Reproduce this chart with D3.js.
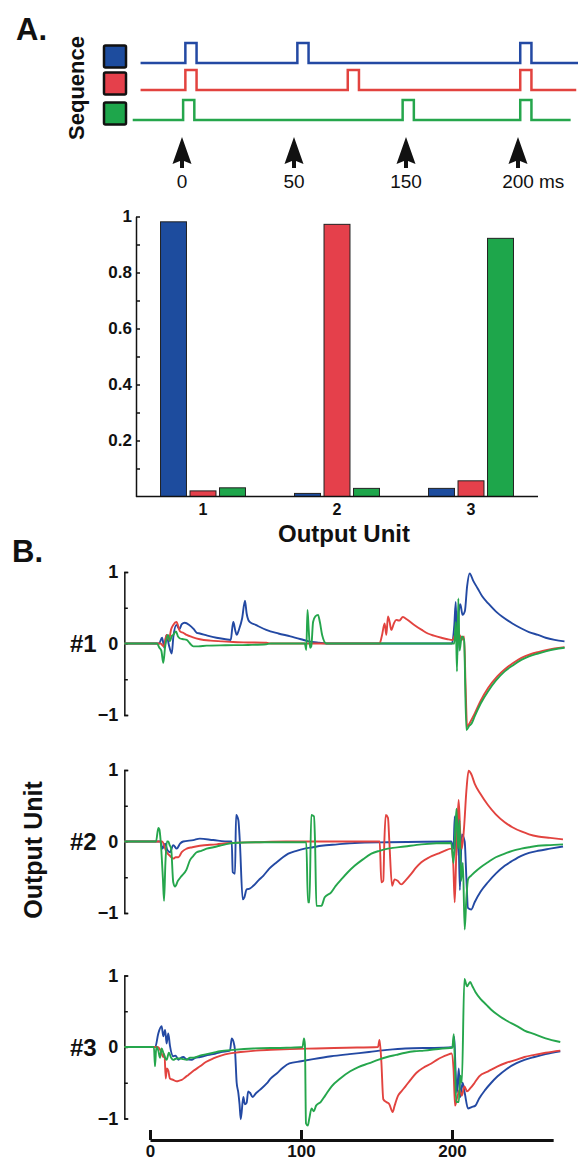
<!DOCTYPE html>
<html>
<head>
<meta charset="utf-8">
<script src="https://cdn.jsdelivr.net/npm/d3@7"></script>
<style>
body{margin:0;background:#fff;}
svg{display:block;font-family:"Liberation Sans",Arial,Helvetica,sans-serif;}
</style>
</head>
<body>
<svg id="fig" width="578" height="1163"></svg>
<script>
// ---- data ----
var seqNames = ["blue","red","green"];
var fillColors = {blue:"#1d4c9e", red:"#e5404b", green:"#1ea64b"};
var lineColors = {blue:"#2349a3", red:"#e2433f", green:"#25a64c"};

// panel A: pulse onsets in "arrow slot" units (arrows sit at slots 0..3)
var seqPulses = [[0.03,1.03,3.02],[0.03,1.48,3.02],[0.01,1.97,3.02]];
var seqStart = [-0.37,-0.37,-0.44];
var seqEnd = [3.54,3.52,3.47];
var pulseWidth = 0.1;
var arrowSlots = [0,1,2,3];
var arrowLabels = ["0","50","150","200"];

// bar chart
var units = ["1","2","3"];
var barBlue = [0.981,0.011,0.029];
var barRed = [0.020,0.972,0.056];
var barGreen = [0.031,0.029,0.922];
var barMajor = [0.2,0.4,0.6,0.8,1];
var barMinor = [0.1,0.3,0.5,0.7,0.9];

// panel B traces: [time ms, output]
var u1Blue = [[-17,0],[6,0],[8,0.08],[9.5,-0.06],[11,0.12],[12.5,-0.02],[14.4,-0.14],[15.5,0.1],[17.5,0.26],[19.5,0.2],[21,0.27],[23,0.29],[26,0.26],[29,0.2],[31,0.15],[33,0.14],[38,0.11],[44,0.08],[50,0.06],[53.5,0.05],[54.5,0.22],[55.2,0.3],[56.5,0.18],[57.4,0.12],[59,0.2],[61,0.35],[62.9,0.6],[64,0.42],[65.1,0.33],[66.2,0.3],[70,0.26],[77,0.19],[85,0.14],[93,0.1],[100,0.06],[105,0.03],[112,0.01],[117,0],[200,0],[201.5,0.25],[202.5,0.58],[203.5,-0.16],[204.5,0.45],[205.5,0.55],[207,0.4],[208.5,0.45],[210,0.8],[211.7,0.98],[214,0.88],[217,0.77],[220,0.66],[224,0.56],[229,0.45],[235,0.35],[240,0.28],[246,0.21],[251,0.16],[257,0.12],[262,0.08],[268,0.05],[274.5,0.03]];
var u1Red = [[-17,0],[7,0],[9,-0.04],[11,0.12],[12.5,0.05],[14,0.2],[15.4,0.26],[17.5,0.3],[19.9,0.17],[22,0.15],[24.3,0.12],[28,0.09],[33,0.06],[40,0.04],[48,0.03],[55,0.02],[65,0.015],[77,0.01],[80,0],[152,0],[153.5,0.1],[155.4,0.28],[156.5,0.12],[157.6,0.38],[158.7,0.3],[159.8,0.19],[161.5,0.28],[163.1,0.33],[165,0.32],[167.5,0.37],[170,0.34],[175,0.26],[180,0.19],[184,0.14],[188,0.11],[193,0.08],[197,0.06],[200.5,0.05],[202,0.12],[203.5,0.02],[205,0.12],[206.5,0.05],[208,0.1],[209,-0.6],[210,-1.16],[212,-1.1],[215,-0.98],[219,-0.8],[224,-0.62],[230,-0.46],[235,-0.36],[240,-0.28],[246,-0.2],[252,-0.15],[257,-0.12],[263,-0.09],[268,-0.07],[274.5,-0.05]];
var u1Green = [[-17,0],[4.6,0],[6.2,-0.06],[7.5,-0.1],[8.8,-0.27],[10,-0.05],[10.6,0.03],[11.9,0.12],[13.2,0.03],[14.3,0.1],[15.4,0.12],[17.2,0.17],[18.5,0.1],[19.9,0.07],[22,0.06],[24.3,0.05],[26.5,0],[28.7,-0.04],[32,-0.04],[37.5,-0.03],[50,-0.025],[65,-0.02],[77,-0.01],[80,0],[102.5,0],[103.5,-0.09],[104.3,0.47],[105.1,0.2],[106,-0.06],[106.8,-0.04],[108,0.3],[109.5,0.38],[111.3,0.4],[112.5,0.3],[114,0.12],[116.8,0],[201.5,0],[202.5,0.3],[203.3,-0.39],[204.2,0.63],[205,-0.1],[206.5,0.1],[208,0.05],[209.5,-1.21],[211.5,-1.15],[213,-1.12],[215,-1.02],[219,-0.84],[223.8,-0.67],[229,-0.52],[234.9,-0.39],[240,-0.31],[245.9,-0.23],[251,-0.18],[257,-0.14],[262,-0.11],[268,-0.08],[274.6,-0.06]];

var u2Blue = [[-17,0],[7,0],[8.2,-0.1],[10,-0.03],[11.5,-0.12],[13.2,-0.15],[15.4,-0.05],[17.7,-0.1],[19.9,-0.03],[22,0],[28.7,0.02],[33,0.04],[41.9,0.02],[53,0],[54.1,0],[54.8,-0.43],[56.3,-0.45],[57,0.37],[58.5,0.3],[59.5,0],[61.4,-0.81],[62.5,-0.78],[64,-0.67],[66,-0.66],[68.4,-0.62],[72,-0.54],[75,-0.48],[79,-0.38],[83.9,-0.29],[88,-0.22],[91.6,-0.17],[97,-0.13],[102.4,-0.1],[108,-0.08],[113.5,-0.06],[124,-0.04],[135.5,-0.02],[157.6,-0.01],[199.5,0],[201,-0.1],[201.8,0.35],[203,-0.2],[204,0.4],[205.2,-0.68],[206.5,0.1],[208.4,0],[209.5,-0.5],[210.6,-0.93],[212.8,-0.95],[215,-0.85],[219,-0.7],[223.8,-0.57],[229,-0.45],[234.9,-0.34],[240,-0.27],[245.9,-0.2],[251,-0.16],[257,-0.13],[265,-0.1],[273.5,-0.07]];
var u2Red = [[-17,0],[8,0],[11,-0.15],[13.2,-0.2],[15.4,-0.24],[17,-0.22],[18.8,-0.22],[21,-0.15],[24.3,-0.1],[28,-0.08],[33,-0.06],[44,-0.04],[53,-0.02],[70,-0.01],[90,0],[152.1,0],[153.2,-0.57],[154.5,-0.55],[155.2,0],[156.1,0.37],[157.6,0.33],[158.5,0],[160.3,-0.62],[162,-0.53],[164,-0.55],[166.4,-0.6],[169,-0.55],[173.1,-0.45],[176,-0.37],[179.7,-0.29],[185,-0.22],[190.7,-0.17],[195,-0.13],[199.5,-0.1],[200.8,-0.3],[201.8,-0.85],[202.8,-0.2],[203.5,0.2],[204.4,0.58],[205.5,0.1],[206.5,-0.1],[208,0.2],[209.5,0.7],[211,0.99],[212.8,0.94],[215,0.81],[219,0.66],[223.8,0.51],[229,0.38],[234.9,0.27],[240,0.2],[245.9,0.14],[251,0.1],[257,0.07],[265,0.05],[273.5,0.03]];
var u2Green = [[-17,0],[4,0],[5.5,0.19],[6.2,0.17],[7.1,0],[8.5,-0.5],[9.3,-0.83],[10.2,-0.3],[11.2,0],[12.1,0],[13,-0.05],[14,-0.1],[15.4,-0.57],[16.6,-0.63],[18.5,-0.55],[21,-0.48],[24,-0.4],[26.5,-0.26],[28.7,-0.2],[30.9,-0.15],[34,-0.13],[37.5,-0.1],[42,-0.08],[46,-0.06],[55,-0.02],[70,-0.01],[103.5,-0.01],[104.6,-0.85],[105.6,-0.85],[106.8,0.37],[108.6,0.35],[109.3,0],[110.2,-0.9],[113.5,-0.9],[115.7,-0.78],[120,-0.71],[123,-0.62],[126.7,-0.53],[131,-0.43],[135.5,-0.34],[141,-0.25],[146.6,-0.17],[152,-0.13],[157.6,-0.1],[168.7,-0.07],[179.7,-0.04],[199.5,-0.02],[201,-0.3],[202,0.1],[203,0.46],[204,-0.1],[205,0.3],[206,-0.55],[207.2,-0.3],[208.4,-1.23],[209.5,-0.8],[210.6,-0.53],[212.5,-0.48],[215,-0.43],[219,-0.36],[223.8,-0.29],[229,-0.22],[234.9,-0.17],[240,-0.13],[245.9,-0.1],[251,-0.08],[257,-0.06],[265,-0.05],[273.5,-0.04]];

var u3Blue = [[-17,0],[3.5,0],[5.5,0.19],[7.7,0.29],[8.8,0.15],[10,0.24],[11,0.05],[12.1,0.19],[13.2,0.02],[15.4,-0.13],[17,-0.12],[18.8,-0.18],[20.5,-0.15],[22.1,-0.14],[24,-0.17],[27.6,-0.18],[30,-0.15],[33.1,-0.14],[37,-0.12],[41.9,-0.1],[47,-0.07],[53,-0.05],[54.1,0.12],[55.2,0.08],[56.3,-0.05],[57.4,-0.5],[58.5,-0.64],[59.3,-0.8],[60.1,-1.01],[61.8,-0.7],[62.8,-0.8],[64,-0.78],[65,-0.62],[66.2,-0.64],[68,-0.7],[70,-0.65],[72.8,-0.6],[77.3,-0.51],[80,-0.44],[83.9,-0.37],[88,-0.29],[92.3,-0.23],[100,-0.2],[108,-0.17],[120,-0.13],[132,-0.1],[145,-0.07],[157,-0.04],[169,-0.02],[193.6,-0.01],[200.5,0],[201.5,0.14],[202.3,-0.3],[203.3,-0.64],[204.5,-0.3],[205.5,-0.7],[207,-0.5],[208.5,-0.65],[210.6,-0.86],[213,-0.84],[215.5,-0.82],[218,-0.72],[222,-0.6],[226,-0.5],[230.2,-0.41],[236,-0.31],[242.4,-0.23],[248,-0.18],[254.6,-0.14],[262,-0.1],[271.7,-0.06]];
var u3Red = [[-17,0],[5,0],[7,-0.05],[8.8,-0.14],[9.6,-0.1],[10.4,-0.44],[11.2,-0.3],[12.1,-0.33],[13.2,-0.44],[15.4,-0.46],[17.7,-0.48],[19.5,-0.47],[21,-0.46],[23,-0.43],[25.4,-0.39],[29,-0.33],[33.1,-0.27],[37,-0.21],[41.9,-0.16],[47,-0.12],[53,-0.09],[60,-0.07],[70,-0.05],[80,-0.04],[92.7,-0.03],[110,-0.02],[130,-0.01],[151,0],[152,0.1],[153.2,-0.2],[154.5,-0.73],[156.5,-0.77],[158.5,-0.8],[160.7,-0.91],[162,-0.82],[164.3,-0.68],[166.5,-0.62],[169.2,-0.55],[172.5,-0.46],[176.5,-0.36],[181,-0.29],[186.3,-0.23],[190,-0.18],[193.6,-0.14],[197,-0.11],[199.7,-0.09],[201,-0.3],[202,-0.82],[203.5,-0.7],[205,-0.6],[206.5,-0.68],[208.2,-0.55],[210,-0.62],[212,-0.58],[215,-0.5],[218,-0.41],[224,-0.34],[230.2,-0.27],[236,-0.22],[242.4,-0.18],[248,-0.14],[254.6,-0.11],[262,-0.08],[271.7,-0.05]];
var u3Green = [[-17,0],[2.6,0],[3.3,-0.27],[4.2,0],[5.5,-0.05],[6.6,-0.15],[7.7,-0.02],[8.8,-0.08],[10,-0.15],[11,-0.18],[12.5,-0.08],[14,-0.15],[15.4,-0.18],[17.5,-0.16],[19.9,-0.16],[22,-0.17],[24.3,-0.18],[26.5,-0.15],[28.7,-0.15],[33,-0.12],[37.5,-0.1],[42,-0.08],[46.4,-0.06],[55.2,-0.04],[68.4,-0.02],[90.5,-0.01],[101,0],[102,0.12],[102.6,0.03],[103.3,-1.07],[104.5,-1.1],[105.5,-1],[107,-0.86],[108.5,-0.9],[110,-0.82],[113,-0.77],[116,-0.68],[120.3,-0.55],[126,-0.44],[132.6,-0.34],[138,-0.28],[144.8,-0.23],[151,-0.18],[157,-0.14],[163,-0.11],[169.2,-0.08],[175,-0.06],[181.4,-0.05],[193.6,-0.02],[200.2,-0.01],[201.2,0.18],[202,-0.3],[202.8,-0.77],[204.5,-0.77],[205.5,-0.4],[206.5,-0.5],[208.2,0.95],[210,0.85],[212,0.91],[213.5,0.85],[215.5,0.77],[219,0.67],[222.8,0.59],[226,0.52],[230.2,0.45],[236,0.37],[242.4,0.3],[248,0.23],[254.6,0.18],[262,0.12],[271.7,0.07]];

var traceLabels = ["#1","#2","#3"];
var traceData = [[u1Blue,u1Red,u1Green],[u2Blue,u2Red,u2Green],[u3Blue,u3Red,u3Green]];
var traceTicks = [-1,-0.5,0,0.5,1];
var timeTicks = [0,100,200];
var timeEnd = 267;

var svg = d3.select("#fig");
var FONT = '"Liberation Sans",Arial,Helvetica,sans-serif';

function styleAxis(g,fs){
	g.attr("font-family",FONT).attr("font-size",fs).attr("font-weight","bold");
	g.selectAll("text").attr("fill","#111");
	g.selectAll("path,line").attr("stroke","#111").attr("stroke-width",1.5);
}

// ---------- panel A : sequences ----------
svg.append("text").attr("x",16).attr("y",40).attr("font-size",31).attr("font-weight","bold").attr("fill","#111").text("A.");

var sx = d3.scaleLinear().domain([0,3]).range([182,518]);
var seqBase = [63,90,120];
var pulseH = 20;

svg.append("text")
	.attr("transform","translate(84,88) rotate(-90)")
	.attr("text-anchor","middle").attr("font-size",22).attr("font-weight","bold").attr("fill","#111")
	.text("Sequence");

var seqLine = d3.line().x(d => sx(d[0])).y(d => d[1]);
for(var i=0;i<seqNames.length;i++){
	var b = seqBase[i], pts = [[seqStart[i],b]];
	seqPulses[i].forEach(function(p){
		pts.push([p,b],[p,b-pulseH],[p+pulseWidth,b-pulseH],[p+pulseWidth,b]);
	});
	pts.push([seqEnd[i],b]);
	svg.append("path").attr("d",seqLine(pts)).attr("fill","none")
		.attr("stroke",lineColors[seqNames[i]]).attr("stroke-width",2.5);
	svg.append("rect").attr("x",104).attr("y",b-17.5).attr("width",22).attr("height",22)
		.attr("fill",fillColors[seqNames[i]]).attr("stroke","#111").attr("stroke-width",2.5).attr("rx",1.5);
}

var arrows = svg.append("g");
arrowSlots.forEach(function(s,k){
	arrows.append("path")
		.attr("transform","translate("+sx(s)+",137)")
		.attr("d","M0,0L9.5,27L2,24L2,31L-2,31L-2,24L-9.5,27Z")
		.attr("fill","#111");
	arrows.append("text").attr("x",sx(s)).attr("y",188).attr("text-anchor","middle")
		.attr("font-size",19).attr("fill","#111").text(arrowLabels[k]);
});
arrows.append("text").attr("x",sx(3)+21).attr("y",188).attr("font-size",19).attr("fill","#111").text("ms");

// ---------- panel A : bar chart ----------
var barSeries = [barBlue,barRed,barGreen];
var by = d3.scaleLinear().domain([0,1]).range([496.5,216.5]);
var bx0 = d3.scaleBand().domain(units).range([136,538]).paddingInner(0.366).paddingOuter(0.183);
var bx1 = d3.scaleBand().domain(seqNames).range([0,bx0.bandwidth()]).paddingInner(0.12);

var bars = svg.append("g");
units.forEach(function(u,ui){
	seqNames.forEach(function(n,si){
		var v = barSeries[si][ui];
		bars.append("rect")
			.attr("x",bx0(u)+bx1(n)).attr("width",bx1.bandwidth())
			.attr("y",by(v)).attr("height",by(0)-by(v))
			.attr("fill",fillColors[n]).attr("stroke","#222").attr("stroke-width",1);
	});
});

var barTicks = barMinor.concat(barMajor).sort(d3.ascending);
var gy = svg.append("g").attr("transform","translate(136,0)")
	.call(d3.axisLeft(by).tickValues(barTicks).tickSizeInner(-4).tickSizeOuter(0).tickPadding(4)
		.tickFormat(d => barMajor.indexOf(d)>=0 ? (d===1?"1":d3.format(".1f")(d)) : ""));
styleAxis(gy,17);
var gx = svg.append("g").attr("transform","translate(0,496.5)")
	.call(d3.axisBottom(bx0).tickSize(0).tickPadding(7));
styleAxis(gx,16);
gx.select(".domain").attr("d","M136,0H538");

svg.append("text").attr("x",344).attr("y",542).attr("text-anchor","middle")
	.attr("font-size",24).attr("font-weight","bold").attr("fill","#111").text("Output Unit");

// ---------- panel B : traces ----------
svg.append("text").attr("x",12).attr("y",562).attr("font-size",31).attr("font-weight","bold").attr("fill","#111").text("B.");

var tx = d3.scaleLinear().domain([0,200]).range([150,452]);
var traceTops = [572,770,975.5];
var traceH = 143;

svg.append("text")
	.attr("transform","translate(42,850) rotate(-90)")
	.attr("text-anchor","middle").attr("font-size",25).attr("font-weight","bold").attr("fill","#111")
	.text("Output Unit");

traceData.forEach(function(series,p){
	var ty = d3.scaleLinear().domain([-1,1]).range([traceTops[p]+traceH,traceTops[p]]);
	var g = svg.append("g");
	var ax = g.append("g").attr("transform","translate("+tx(-17)+",0)")
		.call(d3.axisLeft(ty).tickValues(traceTicks).tickSizeInner(-3.5).tickSizeOuter(-4).tickPadding(6)
			.tickFormat(d => Number.isInteger(d) ? d3.format("d")(d) : ""));
	styleAxis(ax,18);
	g.append("text").attr("x",70).attr("y",ty(0)+8.5).attr("font-size",24).attr("font-weight","bold")
		.attr("fill","#111").text(traceLabels[p]);
	var line = d3.line().x(d => tx(d[0])).y(d => ty(d[1])).curve(d3.curveMonotoneX);
	series.forEach(function(s,si){
		g.append("path").attr("d",line(s)).attr("fill","none")
			.attr("stroke",lineColors[seqNames[si]]).attr("stroke-width",1.9).attr("stroke-linejoin","round");
	});
});

// time axis
var txAxis = d3.scaleLinear().domain([0,timeEnd]).range([tx(0),tx(timeEnd)]);
var gt = svg.append("g").attr("transform","translate(0,1140)")
	.call(d3.axisBottom(txAxis).tickValues(timeTicks).tickSizeInner(-10).tickSizeOuter(0).tickPadding(5).tickFormat(d3.format("d")));
styleAxis(gt,17);
gt.selectAll("path,line").attr("stroke-width",3);
</script>
</body>
</html>
